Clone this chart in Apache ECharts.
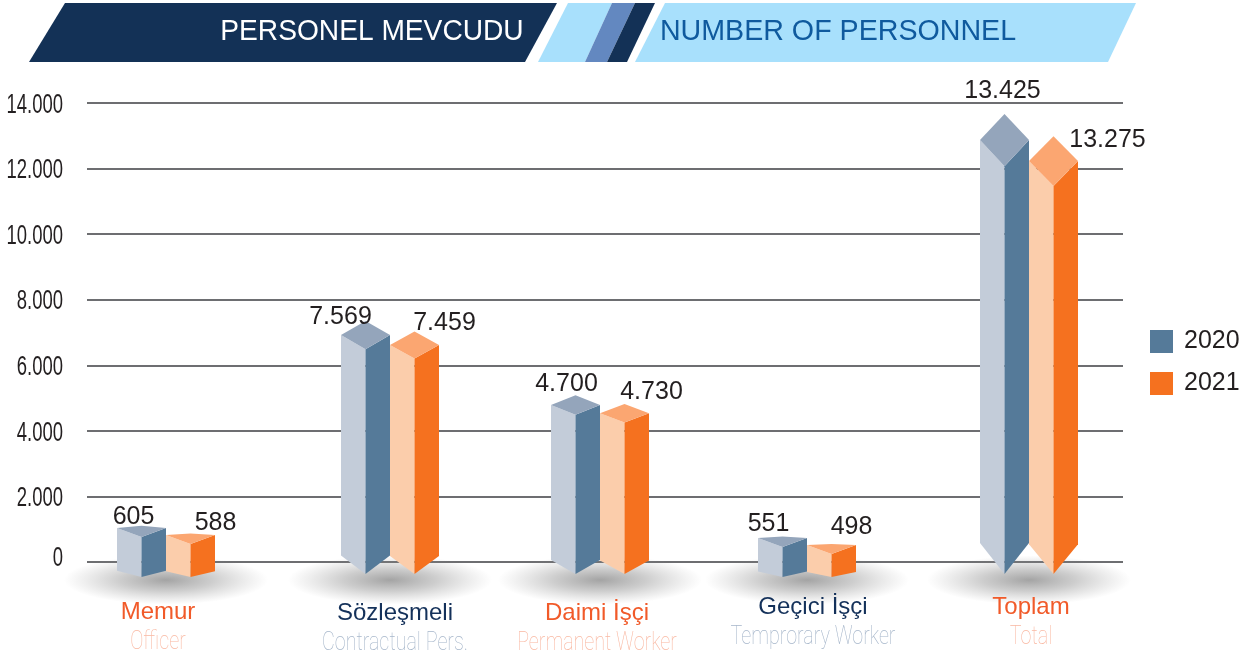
<!DOCTYPE html>
<html>
<head>
<meta charset="utf-8">
<title>Personel Mevcudu</title>
<style>
  html, body { margin: 0; padding: 0; background: #fff; }
  #chart { width: 1258px; height: 658px; }
</style>
<script src="https://cdn.jsdelivr.net/npm/echarts@6/dist/echarts.min.js"></script>
</head>
<body>
<div id="chart"></div>
<script>
const categories = ['Memur', 'Sözleşmeli', 'Daimi İşçi', 'Geçici İşçi', 'Toplam'];
const subCategories = ['Officer', 'Contractual Pers.', 'Permanent Worker', 'Temprorary Worker', 'Total'];
const years = ['2020', '2021'];
// printed values above the bars
const values2020 = [605, 7569, 4700, 551, 13425];
const values2021 = [588, 7459, 4730, 498, 13275];
// bar heights as drawn in the picture, read against the axis (they differ from the printed values)
const heights2020 = [1040, 6920, 4790, 730, 12870];
const heights2021 = [820, 6620, 4540, 520, 12230];
const yTicks = [0, 2000, 4000, 6000, 8000, 10000, 12000, 14000];

// layout tweaks, the source does not space its groups evenly
const groupNudge = [-24.6, -7.8, -5, -5.2, 9.6];
const nameNudge = [-8, 5, -3, 6, 2];
const nameDrop = [50, 51, 51, 45, 45];
const labelShift2020 = [[-8, -9], [-25, -4], [-9, -11], [-14, -12], [-2, -23]];
const labelShift2021 = [[25, -10], [30, -8], [27, -12], [20, -17], [54, 4]];

const halfBar = 24.5;
const palette = {
  2020: { side: '#C3CCD9', front: '#557A99', top: '#94A5BB' },
  2021: { side: '#FBCDAB', front: '#F5711F', top: '#FBA671' }
};
const sans = '"Liberation Sans", sans-serif';

function dotted(v) {
  return String(v).replace(/\B(?=(\d{3})+$)/g, '.');
}

function renderBars(year, printed, shifts) {
  const c = palette[year];
  const side = year === '2020' ? -1 : 1;
  return function (params, api) {
    const i = api.value(0);
    const top = api.coord([i, api.value(1)]);
    const zero = api.coord([i, 0]);
    const xm = top[0] + groupNudge[i] + side * halfBar;
    const x0 = xm - halfBar;
    const x1 = xm + halfBar;
    const yt = top[1];
    const h = zero[1] - yt;
    // the deeper the bar the stronger the perspective
    const back = 0.062 * h;
    const front = Math.max(9, back);
    const yb = zero[1] + (h < 100 ? 15 : 12);
    const drop = 4 + 0.064 * h;
    return {
      type: 'group',
      children: [
        { type: 'polygon', shape: { points: [[x0, yt], [xm, yt + front], [xm, yb], [x0, yb - drop]] }, style: { fill: c.side } },
        { type: 'polygon', shape: { points: [[xm, yt + front], [x1, yt], [x1, yb - drop], [xm, yb]] }, style: { fill: c.front } },
        { type: 'polygon', shape: { points: [[x0, yt], [xm, yt - back], [x1, yt], [xm, yt + front]] }, style: { fill: c.top } },
        {
          type: 'text',
          x: xm + shifts[i][0],
          y: yt - back + shifts[i][1],
          style: {
            text: dotted(printed[i]),
            font: '25px ' + sans,
            fill: '#231F20',
            textAlign: 'center',
            textVerticalAlign: 'middle'
          }
        }
      ]
    };
  };
}

function renderGround(params, api) {
  const i = api.value(0);
  const zero = api.coord([i, 0]);
  const cx = zero[0] + groupNudge[i];
  const tx = cx + nameNudge[i];
  const even = i % 2 === 0;
  return {
    type: 'group',
    children: [
      {
        type: 'circle',
        x: cx,
        y: zero[1] + 18,
        scaleX: 1,
        scaleY: 0.24,
        shape: { cx: 0, cy: 0, r: 102 },
        style: {
          fill: new echarts.graphic.RadialGradient(0.5, 0.5, 0.5, [
            { offset: 0, color: 'rgba(120,120,120,0.68)' },
            { offset: 0.45, color: 'rgba(130,130,130,0.4)' },
            { offset: 1, color: 'rgba(150,150,150,0)' }
          ])
        }
      },
      {
        type: 'text',
        x: tx,
        y: zero[1] + nameDrop[i],
        style: {
          text: categories[i],
          font: '24px ' + sans,
          fill: even ? '#F15A29' : '#14315A',
          textAlign: 'center',
          textVerticalAlign: 'middle'
        }
      },
      {
        type: 'text',
        x: tx,
        y: zero[1] + nameDrop[i] + 31,
        scaleX: 0.79,
        style: {
          text: subCategories[i],
          font: '100 25px Roboto, ' + sans,
          fill: even ? '#F9B8A2' : '#A6B6CA',
          textAlign: 'center',
          textVerticalAlign: 'middle'
        }
      }
    ]
  };
}

// tick labels in the source are a tall condensed face, so they are squeezed here
function renderTick(params, api) {
  const v = api.value(1);
  const p = api.coord([0, v]);
  return {
    type: 'text',
    x: 63,
    y: p[1] + (v === 0 ? -4 : 2),
    scaleX: 0.66,
    style: {
      text: dotted(v),
      font: '28px ' + sans,
      fill: '#231F20',
      textAlign: 'right',
      textVerticalAlign: 'middle'
    }
  };
}

const option = {
  animation: false,
  backgroundColor: '#fff',
  grid: { left: 87, right: 135, top: 103, bottom: 96, outerBoundsMode: 'none' },
  legend: {
    data: years,
    orient: 'vertical',
    left: 1150,
    top: 329,
    padding: 0,
    itemWidth: 23,
    itemHeight: 23,
    itemGap: 17,
    icon: 'rect',
    selectedMode: false,
    textStyle: { fontFamily: sans, fontSize: 25, color: '#231F20', padding: [0, 0, 0, 6] }
  },
  xAxis: {
    type: 'category',
    data: categories,
    axisLine: { show: false },
    axisTick: { show: false },
    axisLabel: { show: false }
  },
  yAxis: {
    type: 'value',
    min: 0,
    max: yTicks[yTicks.length - 1],
    interval: yTicks[1],
    axisLine: { show: false },
    axisTick: { show: false },
    axisLabel: { show: false },
    splitLine: { lineStyle: { color: '#6D6E71', width: 2 } }
  },
  graphic: [
    { type: 'polygon', shape: { points: [[65, 3], [557, 3], [525, 62], [29, 62]] }, style: { fill: '#133156' } },
    { type: 'polygon', shape: { points: [[568, 3], [612, 3], [585, 62], [538, 62]] }, style: { fill: '#A8E0FC' } },
    { type: 'polygon', shape: { points: [[612, 3], [635, 3], [607, 62], [585, 62]] }, style: { fill: '#6388C0' } },
    { type: 'polygon', shape: { points: [[635, 3], [655, 3], [627, 62], [607, 62]] }, style: { fill: '#133156' } },
    { type: 'polygon', shape: { points: [[665, 3], [1136, 3], [1108, 62], [635, 62]] }, style: { fill: '#A8E0FC' } },
    { type: 'text', x: 372, y: 32, scaleX: 0.938, style: { text: 'PERSONEL MEVCUDU', font: '30px ' + sans, fill: '#fff', textAlign: 'center', textVerticalAlign: 'middle' } },
    { type: 'text', x: 838, y: 32, scaleX: 0.954, style: { text: 'NUMBER OF PERSONNEL', font: '30px ' + sans, fill: '#0F5A9E', textAlign: 'center', textVerticalAlign: 'middle' } }
  ],
  series: [
    {
      name: 'ticks',
      type: 'custom',
      silent: true,
      clip: false,
      renderItem: renderTick,
      data: yTicks.map(function (v) { return [0, v]; })
    },
    {
      name: 'ground',
      type: 'custom',
      silent: true,
      renderItem: renderGround,
      data: categories.map(function (c, i) { return [i, 0]; })
    },
    {
      name: '2020',
      type: 'custom',
      silent: true,
      itemStyle: { color: palette[2020].front },
      renderItem: renderBars('2020', values2020, labelShift2020),
      data: heights2020.map(function (v, i) { return [i, v]; })
    },
    {
      name: '2021',
      type: 'custom',
      silent: true,
      itemStyle: { color: palette[2021].front },
      renderItem: renderBars('2021', values2021, labelShift2021),
      data: heights2021.map(function (v, i) { return [i, v]; })
    }
  ]
};

const chart = echarts.init(document.getElementById('chart'));
chart.setOption(option);
</script>
</body>
</html>
